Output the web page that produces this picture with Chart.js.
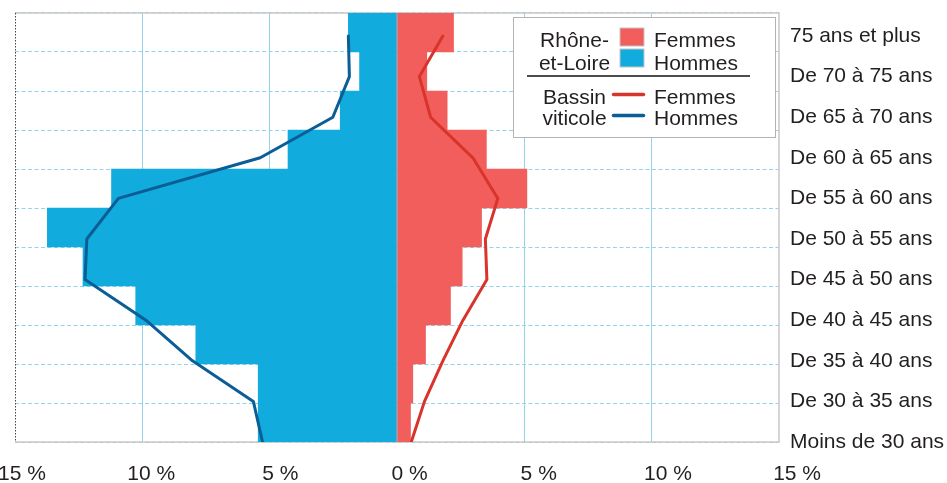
<!DOCTYPE html>
<html lang="fr">
<head>
<meta charset="utf-8">
<title>Pyramide des âges</title>
<script src="https://cdn.jsdelivr.net/npm/chart.js@4.4.1/dist/chart.umd.min.js"></script>
<style>
  html, body { margin: 0; padding: 0; background: #fff; }
  #wrap { width: 947px; height: 483px; position: relative; }
</style>
</head>
<body>
<div id="wrap"><canvas id="pyramid"></canvas></div>
<script>
// age groups, from the bottom of the pyramid to the top
const ageGroups = [
  'Moins de 30 ans', 'De 30 à 35 ans', 'De 35 à 40 ans', 'De 40 à 45 ans',
  'De 45 à 50 ans', 'De 50 à 55 ans', 'De 55 à 60 ans', 'De 60 à 65 ans',
  'De 65 à 70 ans', 'De 70 à 75 ans', '75 ans et plus'
];
const xTicks = [-15, -10, -5, 0, 5, 10, 15];

// Rhône-et-Loire (bars), % of the population
const rlFemmes = [0.53, 0.62, 1.12, 2.10, 2.56, 3.32, 5.10, 3.51, 1.97, 1.17, 2.22];
const rlHommes = [5.45, 5.45, 7.90, 10.26, 12.33, 13.73, 11.21, 4.28, 2.23, 1.47, 1.91];

// Bassin viticole (lines), % of the population
const bvFemmes = [0.56, 1.08, 1.80, 2.59, 3.53, 3.47, 3.96, 2.98, 1.32, 0.88, 1.80];
const bvHommes = [5.28, 5.64, 8.03, 9.86, 12.25, 12.18, 10.94, 5.37, 2.52, 1.87, 1.91];

const FONT = '21px "Liberation Sans", Arial, sans-serif';
const TEXT = '#231f20';
const C_FEM_BAR = '#f25e5b';
const C_HOM_BAR = '#12abdd';
const C_FEM_LINE = '#d9342b';
const C_HOM_LINE = '#0b5d96';
const GRID = '#93d3ec';

const tickFont = { family: '"Liberation Sans", Arial, sans-serif', size: 21 };

const frame = {
  id: 'frame',
  beforeDatasetsDraw(chart) {
    const { ctx, chartArea: a } = chart;
    ctx.save();
    ctx.strokeStyle = '#c8c8c8';
    ctx.lineWidth = 1.5;
    ctx.beginPath();
    ctx.moveTo(a.left, a.top);
    ctx.lineTo(a.right, a.top);
    ctx.lineTo(a.right, a.bottom);
    ctx.lineTo(a.left, a.bottom);
    ctx.stroke();
    ctx.strokeStyle = '#444';
    ctx.lineWidth = 1;
    ctx.setLineDash([1.5, 1.5]);
    ctx.beginPath();
    ctx.moveTo(a.left + 0.5, a.top);
    ctx.lineTo(a.left + 0.5, a.bottom);
    ctx.stroke();
    ctx.restore();
  }
};

const legendBox = {
  id: 'legendBox',
  afterDraw(chart) {
    const { ctx, chartArea } = chart;
    const w = 262, h = 120;
    const x0 = chartArea.right - 3.5 - w;
    const y0 = chartArea.top + 4.5;
    ctx.save();
    ctx.fillStyle = '#fff';
    ctx.fillRect(x0, y0, w, h);
    ctx.strokeStyle = '#b4b4b4';
    ctx.lineWidth = 1;
    ctx.strokeRect(x0, y0, w, h);

    ctx.font = FONT;
    ctx.fillStyle = TEXT;
    ctx.textBaseline = 'alphabetic';
    ctx.textAlign = 'center';
    ctx.fillText('Rhône-', x0 + 61, y0 + 29);
    ctx.fillText('et-Loire', x0 + 61, y0 + 52.5);
    ctx.fillText('Bassin', x0 + 61, y0 + 86);
    ctx.fillText('viticole', x0 + 61, y0 + 107.5);
    ctx.textAlign = 'left';
    ctx.fillText('Femmes', x0 + 140.5, y0 + 29);
    ctx.fillText('Hommes', x0 + 140.5, y0 + 52.5);
    ctx.fillText('Femmes', x0 + 140.5, y0 + 86);
    ctx.fillText('Hommes', x0 + 140.5, y0 + 107.5);

    // bar swatches
    ctx.strokeStyle = '#c4c4c4';
    ctx.fillStyle = C_FEM_BAR;
    ctx.fillRect(x0 + 106.5, y0 + 10.5, 24, 18);
    ctx.strokeRect(x0 + 106.5, y0 + 10.5, 24, 18);
    ctx.fillStyle = C_HOM_BAR;
    ctx.fillRect(x0 + 106.5, y0 + 31.5, 24, 18);
    ctx.strokeRect(x0 + 106.5, y0 + 31.5, 24, 18);

    // separator
    ctx.strokeStyle = '#111';
    ctx.lineWidth = 1.5;
    ctx.beginPath();
    ctx.moveTo(x0 + 13.5, y0 + 58.5);
    ctx.lineTo(x0 + 236.5, y0 + 58.5);
    ctx.stroke();

    // line swatches
    ctx.lineWidth = 3.5;
    ctx.lineCap = 'round';
    ctx.strokeStyle = C_FEM_LINE;
    ctx.beginPath();
    ctx.moveTo(x0 + 100, y0 + 77);
    ctx.lineTo(x0 + 130, y0 + 77);
    ctx.stroke();
    ctx.strokeStyle = C_HOM_LINE;
    ctx.beginPath();
    ctx.moveTo(x0 + 100, y0 + 98);
    ctx.lineTo(x0 + 130, y0 + 98);
    ctx.stroke();
    ctx.restore();
  }
};

const toPoints = values => values.map((v, i) => ({ x: v, y: i }));

new Chart(document.getElementById('pyramid'), {
  type: 'bar',
  data: {
    labels: ageGroups,
    datasets: [
      {
        type: 'line', label: 'Bassin viticole – Femmes', data: toPoints(bvFemmes),
        xAxisID: 'x', yAxisID: 'y2', order: 0,
        borderColor: C_FEM_LINE, borderWidth: 3, pointRadius: 0, tension: 0,
        borderJoinStyle: 'round', borderCapStyle: 'round'
      },
      {
        type: 'line', label: 'Bassin viticole – Hommes', data: toPoints(bvHommes.map(v => -v)),
        xAxisID: 'x', yAxisID: 'y2', order: 0,
        borderColor: C_HOM_LINE, borderWidth: 3, pointRadius: 0, tension: 0,
        borderJoinStyle: 'round', borderCapStyle: 'round'
      },
      {
        label: 'Rhône-et-Loire – Femmes', data: rlFemmes,
        xAxisID: 'x', yAxisID: 'y', order: 1, grouped: false,
        backgroundColor: C_FEM_BAR, borderWidth: 0,
        barPercentage: 1, categoryPercentage: 1
      },
      {
        label: 'Rhône-et-Loire – Hommes', data: rlHommes.map(v => -v),
        xAxisID: 'x', yAxisID: 'y', order: 1, grouped: false,
        backgroundColor: C_HOM_BAR, borderWidth: 0,
        barPercentage: 1, categoryPercentage: 1
      }
    ]
  },
  options: {
    indexAxis: 'y',
    responsive: true,
    maintainAspectRatio: false,
    animation: false,
    layout: { padding: { top: 13, left: 15, right: 0, bottom: 0 } },
    plugins: { legend: { display: false }, tooltip: { enabled: false } },
    scales: {
      x: {
        type: 'linear', position: 'bottom', min: -15, max: 15, offset: false,
        ticks: { display: false, stepSize: 5 },
        grid: {
          drawTicks: false,
          color: c => (c.tick && [-10, -5, 5, 10].includes(c.tick.value)) ? GRID : 'rgba(0,0,0,0)'
        },
        border: { display: false }
      },
      xl: {
        type: 'linear', position: 'bottom', min: -15.27, max: 14.3, offset: false,
        afterBuildTicks: axis => { axis.ticks = xTicks.map(v => ({ value: v })); },
        afterFit: axis => { axis.height = 41; axis.paddingLeft = 0; axis.paddingRight = 0; },
        grid: { display: false, drawTicks: false },
        border: { display: false },
        ticks: {
          autoSkip: false, maxRotation: 0, padding: 20,
          font: tickFont, color: TEXT,
          callback: v => Math.abs(v) + ' %'
        }
      },
      y: {
        type: 'category', position: 'left', reverse: true,
        ticks: { display: false },
        grid: { offset: true, drawTicks: false, color: GRID, lineWidth: 1 },
        border: { display: false, dash: [4, 2.5] }
      },
      y2: {
        type: 'linear', position: 'right', min: 0, max: 10.567, offset: false,
        afterFit: axis => { axis.width = 168; axis.paddingTop = 0; axis.paddingBottom = 0; },
        grid: { display: false, drawTicks: false },
        border: { display: false },
        ticks: {
          stepSize: 1, includeBounds: false, autoSkip: false,
          padding: 11, crossAlign: 'near',
          font: tickFont, color: TEXT,
          callback: v => ageGroups[v] ?? ''
        }
      }
    }
  },
  plugins: [frame, legendBox]
});
</script>
</body>
</html>
